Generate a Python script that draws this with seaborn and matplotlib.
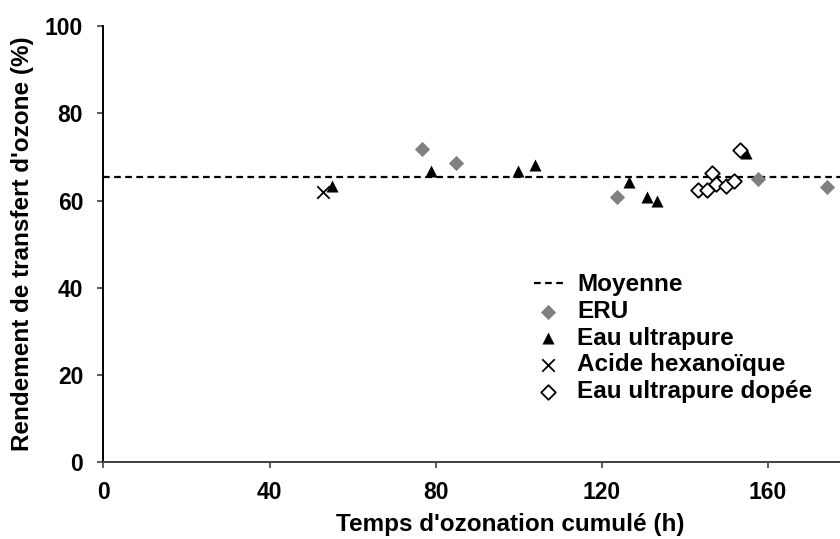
import matplotlib
matplotlib.use("Agg")
import matplotlib.pyplot as plt
import seaborn as sns

# data
eru_x = [76.8, 85.0, 123.7, 157.5, 174.1]
eru_y = [71.7, 68.7, 60.8, 65.0, 63.0]
up_x = [55.0, 78.8, 99.9, 103.9, 126.5, 130.9, 133.2, 154.6]
up_y = [63.4, 66.7, 66.7, 68.2, 64.2, 60.9, 59.8, 70.8]
acide_x = [52.8]
acide_y = [61.9]
dopee_x = [143.2, 145.2, 146.4, 147.5, 149.8, 151.9, 153.3]
dopee_y = [62.3, 62.4, 66.3, 63.8, 63.4, 64.4, 71.6]
moyenne = 65.3

sns.set_theme(style="ticks")
plt.rcParams['font.family'] = ['Liberation Sans', 'DejaVu Sans']
plt.rcParams['font.weight'] = 'bold'
plt.rcParams['text.color'] = 'black'
plt.rcParams['axes.labelcolor'] = 'black'

fig = plt.figure(figsize=(8.4, 5.39), dpi=100)
ax = fig.add_axes([0.123, 0.142, 0.877, 0.81])

ax.axhline(moyenne, color='black', lw=1.6, ls=(0, (3, 2)), label='Moyenne', zorder=1)

sns.scatterplot(x=eru_x, y=eru_y, marker='D', s=60, color='#808080',
                edgecolor='#808080', linewidth=0, label='ERU', ax=ax, zorder=3)
sns.scatterplot(x=up_x, y=up_y, marker='^', s=75, color='black',
                edgecolor='black', linewidth=0, label='Eau ultrapure', ax=ax, zorder=3)
sns.scatterplot(x=acide_x, y=acide_y, marker='x', s=80, color='black',
                linewidth=1.3, label='Acide hexanoïque', ax=ax, zorder=3)
sns.scatterplot(x=dopee_x, y=dopee_y, marker='D', s=55, facecolor='white',
                edgecolor='black', linewidth=1.3, label='Eau ultrapure dopée', ax=ax, zorder=4)

ax.set_xlim(0, 177.3)
ax.set_ylim(0, 100)
ax.set_xticks([0, 40, 80, 120, 160])
ax.set_yticks([0, 20, 40, 60, 80, 100])
ax.tick_params(axis='both', labelsize=16.5, length=4.5, width=1.2, color='#404040',
               labelcolor='black')
ax.tick_params(axis='y', pad=10)
ax.tick_params(axis='x', pad=9)
for lab in ax.get_xticklabels() + ax.get_yticklabels():
    lab.set_fontweight('bold')
for side in ['top', 'right']:
    ax.spines[side].set_visible(False)
for side in ['left', 'bottom']:
    ax.spines[side].set_color('#404040')
    ax.spines[side].set_linewidth(1.4)
ax.spines['left'].set_color('black')

ax.set_xlabel("Temps d'ozonation cumulé (h)", fontsize=17.5, fontweight='bold', labelpad=8)
ax.xaxis.set_label_coords(0.553, -0.115)
ax.set_ylabel("Rendement de transfert d'ozone (%)", fontsize=17.5, fontweight='bold', labelpad=8)

leg = ax.legend(loc='lower left', bbox_to_anchor=(0.571, 0.114), frameon=False,
                fontsize=17.5, handlelength=1.2, handletextpad=0.6, labelspacing=0.15,
                borderaxespad=0)
for t in leg.get_texts():
    t.set_fontweight('bold')

fig.savefig('out.png', dpi=100)
